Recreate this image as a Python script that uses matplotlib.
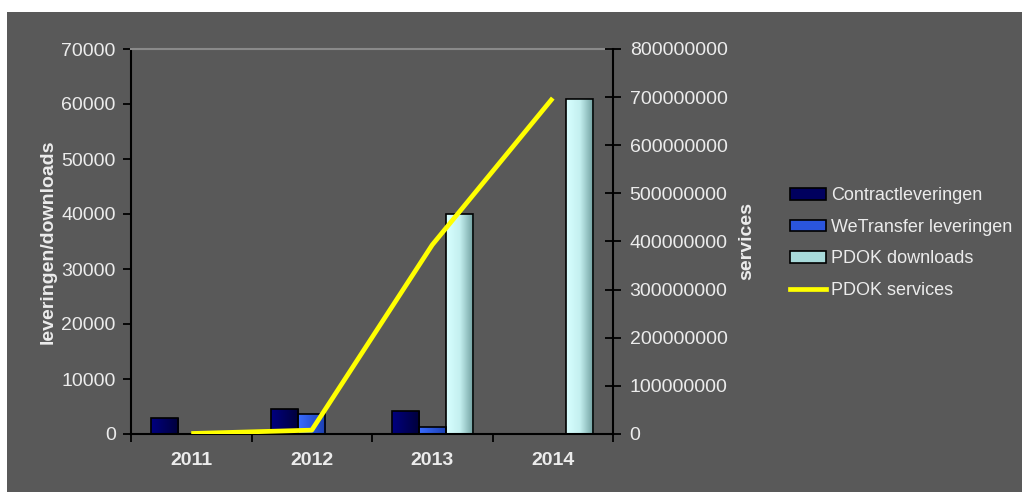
import numpy as np
import matplotlib
matplotlib.use("Agg")
import matplotlib.pyplot as plt
from matplotlib.colors import LinearSegmentedColormap
from matplotlib.patches import Rectangle, Patch
from matplotlib.lines import Line2D

# -----------------------------
# Data
# -----------------------------
years = ["2011", "2012", "2013", "2014"]
contractleveringen = [2850, 4500, 4250, 0]
wetransfer = [0, 3700, 1200, 0]
pdok_downloads = [0, 0, 40000, 61000]
pdok_services = [1000000, 8000000, 393000000, 698000000]

left_ticks = [0, 10000, 20000, 30000, 40000, 50000, 60000, 70000]
right_ticks = [0, 100000000, 200000000, 300000000, 400000000,
               500000000, 600000000, 700000000, 800000000]

BG = "#595959"
TXT = "#ececec"
FONT = "Liberation Sans"

plt.rcParams["font.family"] = [FONT, "DejaVu Sans"]

# gradients (left -> right)
grad_contract = LinearSegmentedColormap.from_list("c", ["#000080", "#00003a"])
grad_wetransfer = LinearSegmentedColormap.from_list("w", ["#3a6cff", "#1c3fb0"])
grad_pdok = LinearSegmentedColormap.from_list("p", ["#d8ffff", "#c4f0f0", "#6f9e9e"])


def gradient_bars(ax, bars, cmap):
    grad = np.linspace(0, 1, 64).reshape(1, -1)
    for bar in bars:
        x0, y0 = bar.get_x(), bar.get_y()
        w, h = bar.get_width(), bar.get_height()
        if h <= 0:
            continue
        im = ax.imshow(grad, extent=[x0, x0 + w, y0, y0 + h], aspect="auto",
                       cmap=cmap, zorder=2, interpolation="bicubic")
        im.set_clip_path(bar)
        bar.set_facecolor("none")
        bar.set_zorder(3)


fig = plt.figure(figsize=(10.22, 4.92), dpi=100, facecolor="white")
fig.patches.append(Rectangle((7 / 1022, 0), 1, 1 - 12 / 492,
                             transform=fig.transFigure, facecolor=BG,
                             edgecolor="none", zorder=-10))

ax = fig.add_axes([131 / 1022, 1 - 434 / 492, (613 - 131) / 1022, (434 - 49) / 492])
ax.set_facecolor("none")

x = np.arange(len(years))
w = 0.225
b1 = ax.bar(x - w, contractleveringen, w, edgecolor="black", linewidth=1.2)
b2 = ax.bar(x, wetransfer, w, edgecolor="black", linewidth=1.2)
b3 = ax.bar(x + w, pdok_downloads, w, edgecolor="black", linewidth=1.2)
gradient_bars(ax, b1, grad_contract)
gradient_bars(ax, b2, grad_wetransfer)
gradient_bars(ax, b3, grad_pdok)

ax.set_xlim(-0.5, len(years) - 0.5)
ax.set_ylim(0, 70000)
ax.set_yticks(left_ticks)
ax.set_yticklabels([str(v) for v in left_ticks])
ax.set_xticks(x)
ax.set_xticklabels(years)
ax.set_xticks(np.arange(-0.5, len(years), 1.0), minor=True)
ax.tick_params(axis="x", which="major", length=0, pad=13)
ax.tick_params(axis="x", which="minor", length=6, width=1.3, color="black",
               direction="out")
ax.tick_params(axis="y", length=6, width=1.3, color="black", direction="out", pad=5)
for lab in ax.get_xticklabels():
    lab.set_color(TXT)
    lab.set_fontsize(14)
    lab.set_fontweight("bold")
for lab in ax.get_yticklabels():
    lab.set_color(TXT)
    lab.set_fontsize(14)

for side in ["left", "bottom"]:
    ax.spines[side].set_color("black")
    ax.spines[side].set_linewidth(1.5)
ax.spines["top"].set_color("#8a8a8a")
ax.spines["top"].set_linewidth(1.5)
ax.spines["right"].set_visible(False)

ax.set_ylabel("leveringen/downloads", color=TXT, fontsize=14,
              fontweight="bold", labelpad=3)

# secondary axis with the services line
ax2 = ax.twinx()
ax2.plot(x, pdok_services, color="#ffff00", linewidth=3.4,
         solid_capstyle="butt", zorder=5)
ax2.set_ylim(0, 800000000)
ax2.set_yticks(right_ticks)
ax2.set_yticklabels([str(v) for v in right_ticks])
ax2.tick_params(axis="y", length=12, width=1.3, color="black",
                direction="inout", pad=6)
for lab in ax2.get_yticklabels():
    lab.set_color(TXT)
    lab.set_fontsize(14)
for side in ["left", "bottom", "top"]:
    ax2.spines[side].set_visible(False)
ax2.spines["right"].set_color("black")
ax2.spines["right"].set_linewidth(1.5)
ax2.set_ylabel("services", color=TXT, fontsize=14, fontweight="bold",
               labelpad=8)

# legend
handles = [
    Patch(facecolor="#00005e", edgecolor="black", linewidth=1.2,
          label="Contractleveringen"),
    Patch(facecolor="#2a55dd", edgecolor="black", linewidth=1.2,
          label="WeTransfer leveringen"),
    Patch(facecolor="#a8dada", edgecolor="black", linewidth=1.2,
          label="PDOK downloads"),
    Line2D([], [], color="#ffff00", linewidth=3.4, label="PDOK services"),
]
leg = fig.legend(handles=handles, loc="center left",
                 bbox_to_anchor=(790 / 1022, 1 - 243 / 492),
                 frameon=False, fontsize=13, handlelength=2.0,
                 handleheight=0.6, handletextpad=0.25, labelspacing=0.8,
                 borderpad=0, borderaxespad=0)
for t in leg.get_texts():
    t.set_color(TXT)

fig.savefig("out.png", dpi=100, facecolor=fig.get_facecolor())
